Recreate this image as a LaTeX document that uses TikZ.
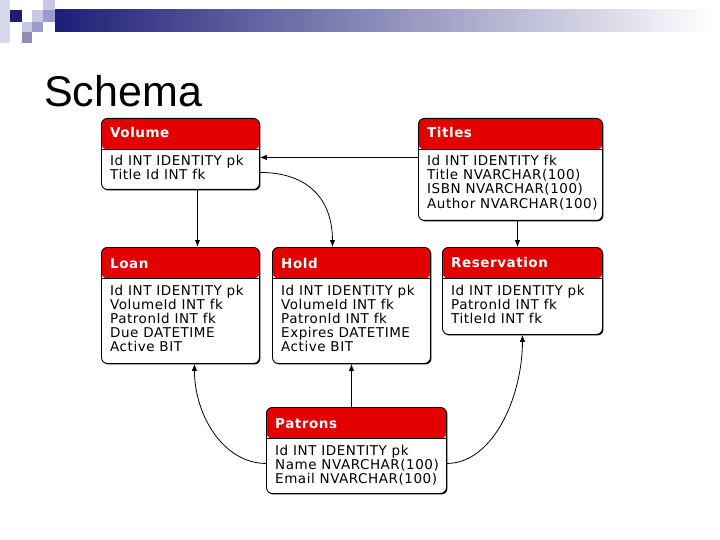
\documentclass[tikz,border=0pt]{standalone}
\usepackage{fontspec}
\setmainfont{Liberation Sans}
\newfontfamily\tblfont[LetterSpace=4]{DejaVu Sans}
\usepackage{tikz}
\usetikzlibrary{arrows.meta,positioning,calc,shadows}
\definecolor{headred}{HTML}{E20000}
\definecolor{barblue}{HTML}{1E1E78}
\definecolor{sqlight}{HTML}{C8C8E4}
\definecolor{sqmid}{HTML}{9C9CCC}

% rows of a table, one node per line
\newcommand{\tblrows}[2]{%
  \foreach \row [count=\i] in {#2}
    \node[rowtext] (#1-\i) at ([xshift=9pt,yshift={-48pt-(\i-1)*14pt}]#1.north west) {\row};}

\begin{document}
\begin{tikzpicture}[x=1pt, y=-1pt, >={Latex[length=7pt,width=5.5pt]}]
	\tikzstyle{tbl}=[draw=black, line width=0.9pt, fill=white, rounded corners=6pt, inner sep=0pt, anchor=north west,
		drop shadow={shadow xshift=1pt, shadow yshift=-1pt, fill=black, opacity=1},
		path picture={\fill[headred] (path picture bounding box.north west) rectangle ([yshift=-31pt]path picture bounding box.north east);
			\draw[line width=0.6pt] ([yshift=-31pt]path picture bounding box.north west) -- ([yshift=-31pt]path picture bounding box.north east);}]
	\tikzstyle{tbltitle}=[anchor=base west, inner sep=0pt, text=white, font=\tblfont\fontsize{13.5}{14}\selectfont\bfseries]
	\tikzstyle{rowtext}=[anchor=base west, inner sep=0pt, font=\tblfont\fontsize{13.5}{14}\selectfont]
	\tikzstyle{conn}=[->, line width=0.8pt]
	\useasboundingbox (0,0) rectangle (720,540);
	\fill[white] (0,0) rectangle (720,540);

	% slide decoration
	\shade[left color=barblue, right color=white] (55,10) rectangle (715,32);
	\fill[sqlight!70] (0,0) rectangle (10,43);
	\fill[barblue!95!black] (10,10) rectangle (22,22);
	\fill[sqlight] (43,0) rectangle (55,10);
	\fill[sqlight] (32,10) rectangle (43,22);
	\fill[sqmid] (43,10) rectangle (55,22);
	\fill[sqlight] (22,22) rectangle (32,32);
	\fill[sqmid] (32,22) rectangle (43,32);
	\fill[sqmid!90!black] (22,32) rectangle (32,43);
	\node[anchor=base west, inner sep=0pt, font=\fontsize{43}{50}\selectfont] (heading) at (44,107) {Schema};

	% tables
	\node[tbl, minimum width=158, minimum height=71] (volume) at (101,118) {};
	\node[tbl, minimum width=184, minimum height=102] (titles) at (418,118) {};
	\node[tbl, minimum width=158, minimum height=116] (loan) at (101,247) {};
	\node[tbl, minimum width=158, minimum height=116] (hold) at (272,247) {};
	\node[tbl, minimum width=160, minimum height=87] (reserv) at (442,247) {};
	\node[tbl, minimum width=180, minimum height=86] (patrons) at (266,407) {};

	\node[tbltitle] (volume-h) at ([xshift=9pt,yshift=-20pt]volume.north west) {Volume};
	\node[tbltitle] (titles-h) at ([xshift=9pt,yshift=-20pt]titles.north west) {Titles};
	\node[tbltitle] (loan-h) at ([xshift=9pt,yshift=-21pt]loan.north west) {Loan};
	\node[tbltitle] (hold-h) at ([xshift=9pt,yshift=-21pt]hold.north west) {Hold};
	\node[tbltitle] (reserv-h) at ([xshift=9pt,yshift=-20pt]reserv.north west) {Reservation};
	\node[tbltitle] (patrons-h) at ([xshift=9pt,yshift=-21pt]patrons.north west) {Patrons};

	\tblrows{volume}{{Id INT IDENTITY pk},{Title Id INT fk}}
	\tblrows{titles}{{Id INT IDENTITY fk},{Title NVARCHAR(100)},{ISBN NVARCHAR(100)},{Author NVARCHAR(100)}}
	\tblrows{loan}{{Id INT IDENTITY pk},{VolumeId INT fk},{PatronId INT fk},{Due DATETIME},{Active BIT}}
	\tblrows{hold}{{Id INT IDENTITY pk},{VolumeId INT fk},{PatronId INT fk},{Expires DATETIME},{Active BIT}}
	\tblrows{reserv}{{Id INT IDENTITY pk},{PatronId INT fk},{TitleId INT fk}}
	\tblrows{patrons}{{Id INT IDENTITY pk},{Name NVARCHAR(100)},{Email NVARCHAR(100)}}

	% relations
	\draw[conn] ([yshift=12pt]titles.west) -- ([yshift=12pt]titles.west -| volume.east);
	\draw[conn, line width=1.3pt] ([xshift=17pt]volume.south) -- ([xshift=17pt]volume.south |- loan.north);
	\draw[conn] ([yshift=-18.5pt]volume.east) .. controls +(48,0) and +(0,-48) .. ([xshift=-19pt]hold.north);
	\draw[conn] ([xshift=7pt]titles.south) -- ([xshift=7pt]titles.south |- reserv.north);
	\draw[conn] (patrons.north -| hold.south) -- (hold.south);
	\draw[conn] ([yshift=-13pt]patrons.west) .. controls +(-42,0) and +(0,52) .. ([xshift=14pt]loan.south);
	\draw[conn] ([yshift=-13pt]patrons.east) .. controls +(46,0) and +(0,62) .. (reserv.south);
\end{tikzpicture}
\end{document}
